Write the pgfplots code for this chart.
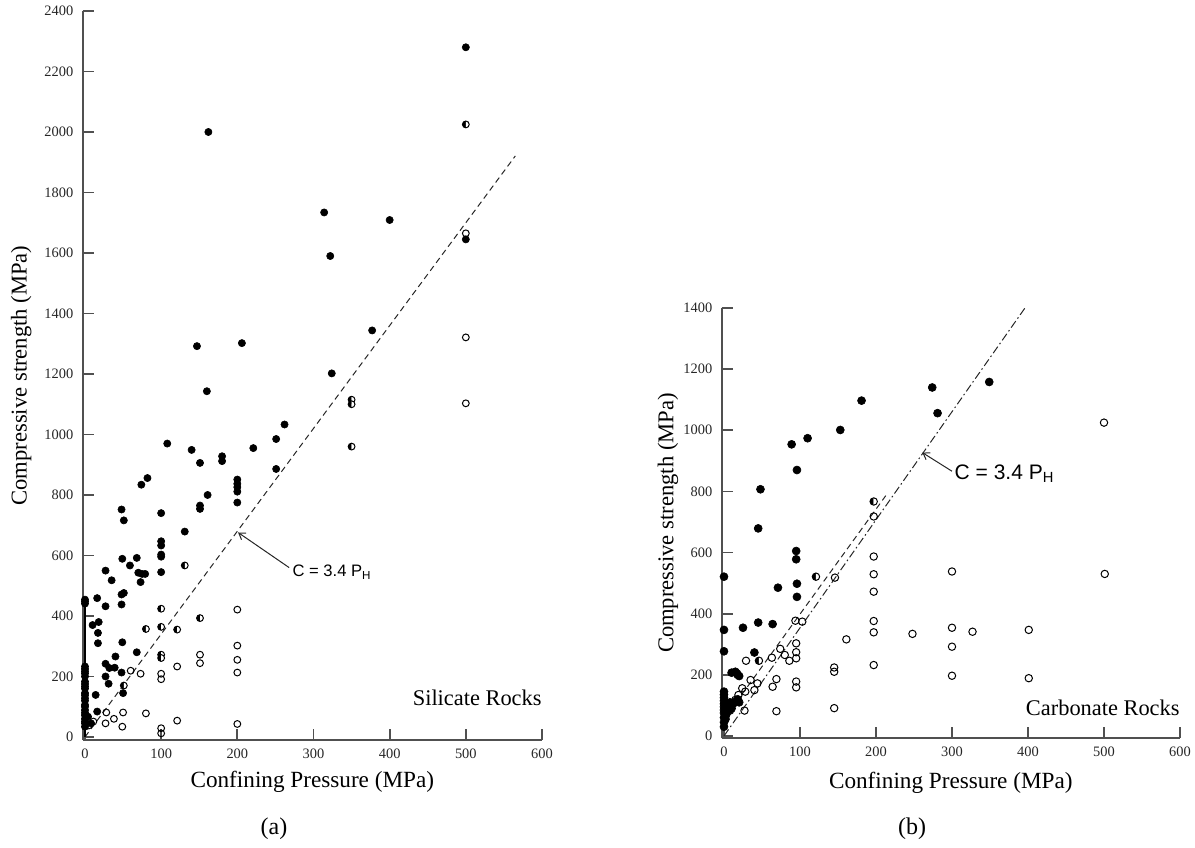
\documentclass[border=0pt]{standalone}
\usepackage{fontspec}
\setmainfont{Liberation Serif}
\newfontfamily\arialf{Liberation Sans}
\usepackage{pgfplots}
\pgfplotsset{compat=1.18}
\usetikzlibrary{arrows.meta}
\definecolor{axgray}{HTML}{505050}
\pgfplotsset{
  rockaxis/.style={
    scale only axis,
    axis lines=left,
    axis line style={-, axgray, line width=0.9pt},
    tick style={axgray, line width=0.9pt},
    tick align=inside,
    major tick length=5.5pt,
    xmin=-3, xmax=600,
    xtick={0,100,...,600},
    /pgf/number format/assume math mode=true,
    /pgf/number format/1000 sep={},
    tick label style={font=\fontsize{7.2}{8}\selectfont, text=black!85},
    yticklabel style={xshift=-1.2pt},
    xticklabel style={yshift=-1pt},
    ylabel style={font=\fontsize{11.3}{13}\selectfont},
    xlabel style={font=\fontsize{11.6}{13}\selectfont},
    clip=false,
  },
  filledA/.style={only marks, mark=*, mark size=1.8pt, mark options={fill=black, draw=black, line width=0.3pt}},
  openA/.style={only marks, mark=o, mark size=1.7pt, mark options={draw=black, line width=0.5pt}},
  halfA/.style={only marks, mark=halfcircle*, mark size=1.7pt, mark options={rotate=90, fill=black, draw=black, line width=0.5pt}},
  filledB/.style={only marks, mark=*, mark size=2pt, mark options={fill=black, draw=black, line width=0.3pt}},
  openB/.style={only marks, mark=o, mark size=1.85pt, mark options={draw=black, line width=0.5pt}},
  halfB/.style={only marks, mark=halfcircle*, mark size=1.85pt, mark options={rotate=90, fill=black, draw=black, line width=0.5pt}},
}
\begin{document}
\begin{tikzpicture}
\path[use as bounding box] (0,0) rectangle (597.5pt,423.5pt);

% ---------------- (a) Silicate Rocks ----------------
\begin{axis}[rockaxis,
  at={(41.35pt,53.5pt)}, anchor=south west,
  width=229.65pt, height=364.5pt,
  ymin=-10, ymax=2400,
  ytick={0,200,...,2400},
  xlabel={Confining Pressure (MPa)},
  ylabel={Compressive strength (MPa)},
  xlabel style={at={(axis description cs:0.5,-0.0576)}, anchor=center},
  ylabel style={at={(axis description cs:-0.134,0.5)}, anchor=center},
]
\addplot[black!85, dash pattern=on 3pt off 2pt, line width=0.5pt] coordinates {(0,0) (565,1921)};
\addplot[black, line width=1pt] coordinates {(0,0) (0,455)};
\addplot[filledA] coordinates {
(0,34)(0,45)(0,51)(0,60)(0,72)(0,80)(0,89)(0,100)(0,106)(0,120)(0,128)(0,138)(0,145)
(0,160)(0,167)(0,175)(0,183)(0,200)(0,210)(0,217)(0,225)(0,233)(0,441)(0,448)(0,454)
(4,67)(8,45)
(16,84)(14,139)(50,145)(31,176)(27,200)(48,213)(27,242)(32,228)(39,229)(40,266)(68,280)
(17,310)(49,313)(17,344)(10,370)(18,380)(27,432)(48,438)(16,459)(48,471)(51,476)
(35,518)(73,512)(27,550)(70,543)(75,539)(79,539)(59,567)(49,589)(68,592)
(100,545)(100,596)(100,603)(100,633)(100,647)(100,740)
(48,752)(51,716)(131,679)(74,834)(82,856)(108,970)(140,949)(151,906)(180,928)(180,912)
(221,955)(251,985)(262,1033)(251,886)(161,800)(151,765)(151,754)
(200,851)(200,837)(200,826)(200,811)(200,775)
(160,1143)(324,1202)(147,1292)(206,1302)(377,1344)(322,1590)(314,1734)(400,1709)
(162,2000)(500,2280)(500,1645)
};
\addplot[halfA] coordinates {
(131,567)(100,424)(151,393)(80,357)(100,364)(121,355)(100,272)(100,261)(51,170)
(350,1115)(350,1100)(350,960)(500,2025)
};
\addplot[openA] coordinates {
(200,421)(200,302)(200,255)(200,213)(151,272)(151,244)(121,233)(100,209)(100,191)
(73,209)(60,219)(28,81)(50,81)(80,78)(38,60)(27,45)(49,34)(121,54)(100,29)(100,12)
(200,43)(11,51)(5,38)(500,1665)(500,1321)(500,1103)
};
\draw[black!85, line width=0.5pt, -{Straight Barb[length=3pt,width=4pt]}] (axis cs:268,560) -- (axis cs:201,676);
\node[anchor=west, inner sep=0pt, font=\arialf\fontsize{8.3}{9}\selectfont] at (axis cs:272,545) {C = 3.4 P\textsubscript{H}};
\node[anchor=east, inner sep=0pt, font=\fontsize{11.2}{13}\selectfont] at (axis cs:600,129) {Silicate Rocks};
\end{axis}

% ---------------- (b) Carbonate Rocks ----------------
\begin{axis}[rockaxis,
  at={(360.85pt,54.45pt)}, anchor=south west,
  width=229.15pt, height=215.05pt,
  ymin=-7, ymax=1400,
  ytick={0,200,...,1400},
  xlabel={Confining Pressure (MPa)},
  ylabel={Compressive strength (MPa)},
  xlabel style={at={(axis description cs:0.5,-0.1047)}, anchor=center},
  ylabel style={at={(axis description cs:-0.117,0.5)}, anchor=center},
]
\addplot[black!85, dash pattern=on 3pt off 2pt, line width=0.5pt] coordinates {(0,55) (214,790)};
\addplot[black!85, dash pattern=on 4pt off 1.5pt on 0.8pt off 1.5pt, line width=0.5pt] coordinates {(0,0) (396,1400)};
\addplot[filledB] coordinates {
(0,30)(0,45)(0,60)(0,75)(0,85)(0,95)(0,105)(0,115)(0,125)(0,135)(0,145)
(3,70)(5,100)(8,110)(10,90)(12,105)(15,112)(18,120)(20,110)(7,85)(2,55)
(15,210)(18,200)(10,207)(17,205)(20,196)
(0,277)(40,273)(0,347)(25,354)(45,371)(64,366)(0,521)(71,485)(96,498)(96,455)
(95,605)(95,578)(45,679)(48,807)(96,870)(89,954)(110,974)(153,1001)(181,1097)
(274,1140)(281,1056)(349,1158)
};
\addplot[halfB] coordinates {(121,521)(197,767)(46,246)};
\addplot[openB] coordinates {
(197,718)(197,587)(197,529)(197,472)(197,376)(197,339)(197,232)
(146,518)(161,316)(145,224)(145,210)(145,91)
(94,377)(103,374)(95,303)(95,274)(95,254)(74,285)(80,265)(86,246)(63,256)
(95,178)(95,159)(69,186)(64,161)(29,246)(35,183)(44,172)(40,150)(24,156)(28,145)
(19,134)(15,118)(10,101)(27,83)(69,81)(8,83)
(248,334)(300,538)(501,530)(300,354)(327,341)(401,347)(300,292)(300,197)(401,189)(500,1025)
};
\draw[black!85, line width=0.5pt, -{Straight Barb[length=3pt,width=4pt]}] (axis cs:300,866) -- (axis cs:261,927);
\node[anchor=west, inner sep=0pt, font=\arialf\fontsize{10.5}{12}\selectfont] at (axis cs:303,858) {C = 3.4 P\textsubscript{H}};
\node[anchor=east, inner sep=0pt, font=\fontsize{11.2}{13}\selectfont] at (axis cs:600,91) {Carbonate Rocks};
\end{axis}

\node[font=\fontsize{12}{14}\selectfont] at (137pt,9pt) {(a)};
\node[font=\fontsize{12}{14}\selectfont] at (456pt,9pt) {(b)};
\end{tikzpicture}
\end{document}
